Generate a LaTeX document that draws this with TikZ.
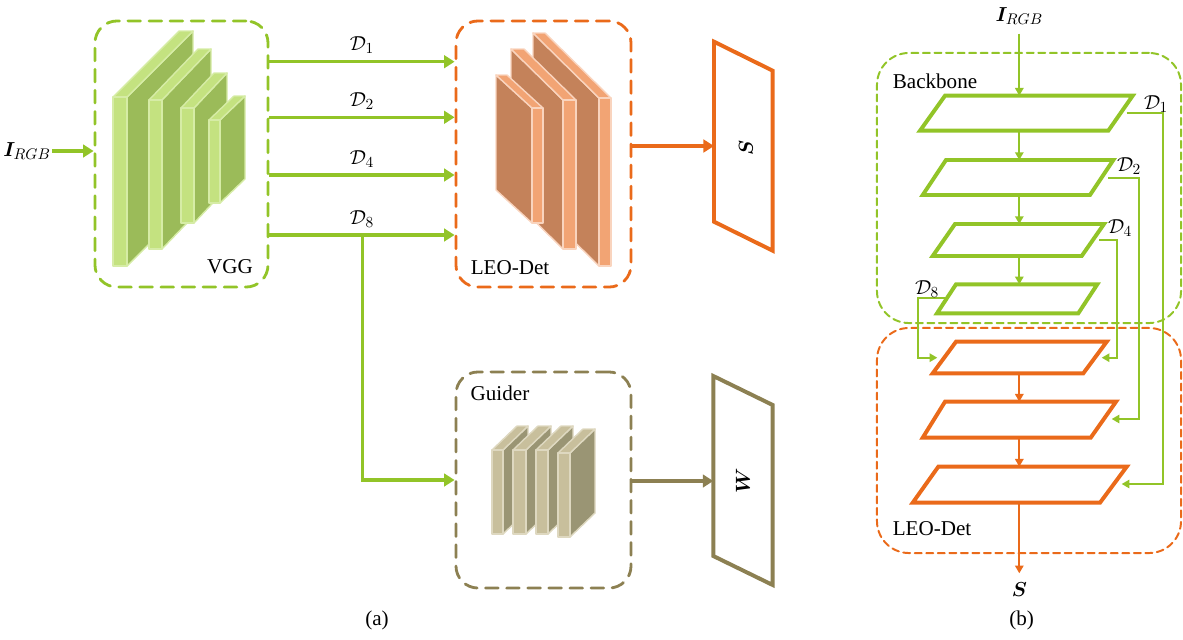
\documentclass[tikz,border=0pt]{standalone}
\usepackage{fontspec}
\setmainfont{Liberation Serif}
\usepackage{bm}
\usetikzlibrary{arrows.meta}
\definecolor{vgreen}{RGB}{146,196,40}
\definecolor{lorange}{RGB}{234,106,26}
\definecolor{olive}{RGB}{140,128,82}
\definecolor{gfront}{RGB}{196,226,128}
\definecolor{gside}{RGB}{155,187,89}
\definecolor{gedge}{RGB}{214,236,166}
\definecolor{ofront}{RGB}{242,164,116}
\definecolor{oside}{RGB}{196,130,90}
\definecolor{oedge}{RGB}{249,212,190}
\definecolor{kfront}{RGB}{200,191,156}
\definecolor{kside}{RGB}{154,149,116}
\definecolor{kedge}{RGB}{222,216,192}
\tikzset{
 abox/.style={rectangle, rounded corners=0.55cm, line width=2pt, dash pattern=on 9pt off 6pt, line cap=round, inner sep=0pt},
 bbox/.style={rectangle, rounded corners=0.8cm, line width=1.4pt, dash pattern=on 5pt off 3.2pt, line cap=round, inner sep=0pt},
 fatarrow/.style={line width=2.3pt, -{Triangle[length=7.5pt,width=9pt]}},
 thinarrow/.style={line width=1.2pt, -{Triangle[length=5.5pt,width=6pt]}},
 para/.style={line width=2.8pt, line join=miter},
 slabedge/.style={line width=1pt, line join=round},
 lbl/.style={inner sep=1pt}
}
% slab with side face on the right: fx1 fx2 fy1 fy2 dx dyup family
\newcommand\slabR[7]{%
 \filldraw[fill=#7side,draw=#7edge,slabedge] (#2,#3) -- ({#2+#5},{#3-#6}) -- ({#2+#5},{#4-#6}) -- (#2,#4) -- cycle;
 \filldraw[fill=#7front,draw=#7edge,slabedge] (#1,#3) -- (#2,#3) -- ({#2+#5},{#3-#6}) -- ({#1+#5},{#3-#6}) -- cycle;
 \filldraw[fill=#7front,draw=#7edge,slabedge] (#1,#3) rectangle (#2,#4);}
% slab with side face on the left
\newcommand\slabL[7]{%
 \filldraw[fill=#7side,draw=#7edge,slabedge] (#1,#3) -- ({#1-#5},{#3-#6}) -- ({#1-#5},{#4-#6}) -- (#1,#4) -- cycle;
 \filldraw[fill=#7front,draw=#7edge,slabedge] (#1,#3) -- (#2,#3) -- ({#2-#5},{#3-#6}) -- ({#1-#5},{#3-#6}) -- cycle;
 \filldraw[fill=#7front,draw=#7edge,slabedge] (#1,#3) rectangle (#2,#4);}
\begin{document}
\begin{tikzpicture}[x=0.025cm,y=-0.025cm,font=\fontsize{15}{18}\selectfont]
\useasboundingbox (0,0) rectangle (1183,639);
% ---------------- (a) ----------------
\node[abox,draw=vgreen,minimum width=4.325cm,minimum height=6.65cm] (vgg) at (181.5,154) {};
\node[abox,draw=lorange,minimum width=4.375cm,minimum height=6.65cm] (leo) at (543.5,154) {};
\node[abox,draw=olive,minimum width=4.375cm,minimum height=5.4cm] (guider) at (543.5,480) {};
% VGG slabs
\slabR{113}{127}{97}{266}{66}{66}{g}
\slabR{149}{162}{100}{249}{49}{51}{g}
\slabR{181}{194}{108}{223}{33}{35}{g}
\slabR{209}{220}{120}{203}{25}{24}{g}
% LEO-Det slabs
\slabL{599}{611}{98}{266}{66}{65}{o}
\slabL{563}{576}{100}{249}{52}{51}{o}
\slabL{532}{543}{108}{223}{36}{33}{o}
% Guider slabs
\slabR{492}{503}{450}{534}{25}{24}{k}
\slabR{513}{526}{450}{534}{25}{24}{k}
\slabR{536}{548}{450}{534}{25}{24}{k}
\slabR{558}{570}{453}{537}{25}{24}{k}
\node[lbl] (vgglbl) at (230,267) {VGG};
\node[lbl] (leolbl) at (510,268) {LEO-Det};
\node[lbl] (guiderlbl) at (500,393) {Guider};
% outputs
\draw[para,draw=lorange] (714,41.7) coordinate (Sa) -- (772.7,70.7) -- (772.7,250.7) -- (714,221.7) coordinate (Sb) -- cycle;
\node[rotate=90,lbl] (Slbl) at (746,148) {$\bm{S}$};
\draw[para,draw=olive] (713.3,376) coordinate (Wa) -- (772.7,405) -- (772.7,585) -- (713.3,556) coordinate (Wb) -- cycle;
\node[rotate=90,lbl] (Wlbl) at (743,481) {$\bm{W}$};
% input
\node[lbl] (irgbA) at (27,151) {$\bm{I}_{RGB}$};
\draw[fatarrow,draw=vgreen,color=vgreen] (irgbA.east) -- (vgg.west |- irgbA.east);
% feature arrows
\draw[fatarrow,color=vgreen] (vgg.east |- 0,61.7) -- (leo.west |- 0,61.7) node[midway,above=1pt,text=black] (d1a) {$\mathcal{D}_1$};
\draw[fatarrow,color=vgreen] (vgg.east |- 0,117.3) -- (leo.west |- 0,117.3) node[midway,above=1pt,text=black] (d2a) {$\mathcal{D}_2$};
\draw[fatarrow,color=vgreen] (vgg.east |- 0,175) -- (leo.west |- 0,175) node[midway,above=1pt,text=black] (d4a) {$\mathcal{D}_4$};
\draw[fatarrow,color=vgreen] (vgg.east |- 0,235) -- (leo.west |- 0,235) node[midway,above=1pt,text=black] (d8a) {$\mathcal{D}_8$};
\coordinate (split) at (362.7,235);
\draw[fatarrow,color=vgreen] (split) -- (split |- 0,480) -- (guider.west |- 0,480);
\draw[fatarrow,color=lorange] (leo.east |- 0,146) -- (Sa |- 0,146);
\draw[fatarrow,color=olive] (guider.east |- 0,481) -- (Wa |- 0,481);
\node (cap_a) at (377,620) {(a)};
% ---------------- (b) ----------------
\node[bbox,draw=vgreen,minimum width=7.6cm,minimum height=6.75cm] (backbone) at (1029,188) {};
\node[bbox,draw=lorange,minimum width=7.6cm,minimum height=5.625cm] (leob) at (1029,440.5) {};
\node[lbl] (bblbl) at (935,81) {Backbone};
\node[lbl] (leoblbl) at (932,529) {LEO-Det};
\node[lbl] (irgbB) at (1019.3,16) {$\bm{I}_{RGB}$};
% green parallelograms
\draw[para,draw=vgreen] (920,130.7) -- (945,95.7) -- (1132.7,95.7) -- (1108.3,130.7) -- cycle;
\draw[para,draw=vgreen] (922.7,195) -- (946,160) -- (1113.3,160) -- (1090,195) -- cycle;
\draw[para,draw=vgreen] (932.7,256) -- (955,224) -- (1104,224) -- (1081.7,256) -- cycle;
\draw[para,draw=vgreen] (937,313.3) -- (956,284.3) -- (1097.3,284.3) -- (1078.3,313.3) -- cycle;
% orange parallelograms
\draw[para,draw=lorange] (932.7,373.3) -- (956,341.7) -- (1106.7,341.7) -- (1083.3,373.3) -- cycle;
\draw[para,draw=lorange] (922.7,437.7) -- (945,401.7) -- (1116,401.7) -- (1090.7,437.7) -- cycle;
\draw[para,draw=lorange] (912.7,502.7) -- (938.3,466.7) -- (1126.7,466.7) -- (1100,502.7) -- cycle;
\coordinate (p1t) at (1019.3,95.7); \coordinate (p1b) at (1019.3,130.7);
\coordinate (p2t) at (1019.3,160);  \coordinate (p2b) at (1019.3,195);
\coordinate (p3t) at (1019.3,224);  \coordinate (p3b) at (1019.3,256);
\coordinate (p4t) at (1019.3,284.3);
\coordinate (p5t) at (1019.3,341.7); \coordinate (p5b) at (1019.3,373.3);
\coordinate (p6t) at (1019.3,401.7); \coordinate (p6b) at (1019.3,437.7);
\coordinate (p7t) at (1019.3,466.7); \coordinate (p7b) at (1019.3,502.7);
\coordinate (sout) at (1019.3,573.3);
\draw[thinarrow,color=vgreen] ([yshift=-0.18cm]irgbB.south) -- (p1t);
\draw[thinarrow,color=vgreen] (p1b) -- (p2t);
\draw[thinarrow,color=vgreen] (p2b) -- (p3t);
\draw[thinarrow,color=vgreen] (p3b) -- (p4t);
\draw[thinarrow,color=lorange] (p5b) -- (p6t);
\draw[thinarrow,color=lorange] (p6b) -- (p7t);
\draw[thinarrow,color=lorange] (p7b) -- (sout);
\node[lbl] (Sbout) at (1019.3,590) {$\bm{S}$};
% skip connections
\coordinate (d1s) at (1126.7,113.3); \coordinate (d1e) at (1121.7,484);
\coordinate (d2s) at (1108.3,177.7); \coordinate (d2e) at (1111.7,419);
\coordinate (d4s) at (1099.3,240);   \coordinate (d4e) at (1101.7,357.7);
\coordinate (d8s) at (947.3,298.3);  \coordinate (d8e) at (937.3,357.7);
\draw[thinarrow,color=vgreen] (d1s) -- (1162.7,113.3) |- (d1e);
\draw[thinarrow,color=vgreen] (d2s) -- (1139.3,177.7) |- (d2e);
\draw[thinarrow,color=vgreen] (d4s) -- (1116.7,240) |- (d4e);
\draw[thinarrow,color=vgreen] (d8s) -- (918.3,298.3) |- (d8e);
\node[lbl] (d1b) at (1156,104) {$\mathcal{D}_1$};
\node[lbl] (d2b) at (1129,166) {$\mathcal{D}_2$};
\node[lbl] (d4b) at (1120,228) {$\mathcal{D}_4$};
\node[lbl] (d8b) at (927,289) {$\mathcal{D}_8$};
\node (cap_b) at (1021.7,620) {(b)};
\end{tikzpicture}
\end{document}
